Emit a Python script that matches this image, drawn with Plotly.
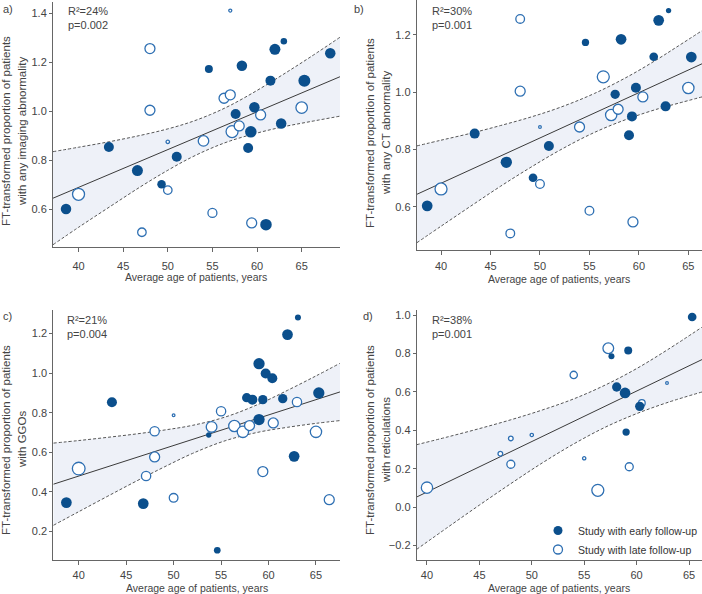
import plotly.graph_objects as go
from plotly.subplots import make_subplots

FONT = "Liberation Sans"
EARLY = "#0b4f8c"
LATE = "#2f70b3"
BAND = "#eef1f8"
AXIS = "#666666"
TEXT = "#444444"

# panel a) any imaging abnormality
a_early_age = [38.6, 43.4, 46.6, 49.3, 51.0, 54.6, 58.3, 57.6, 59.7, 59.3, 59.0, 61.0, 61.5, 62.0, 63.0, 62.7, 65.3, 68.2]
a_early_ft = [0.601, 0.854, 0.758, 0.702, 0.814, 1.173, 1.186, 0.989, 1.016, 0.916, 0.850, 0.537, 1.125, 1.253, 1.286, 0.950, 1.125, 1.237]
a_early_w = [10.5, 10, 11, 8.5, 10, 8, 10.5, 10, 10.5, 11.5, 10, 11.5, 10, 11, 6.5, 10.5, 12, 10.5]
a_late_age = [48.0, 48.0, 40.0, 47.1, 50.0, 50.0, 54.0, 55.0, 56.3, 57.0, 57.0, 57.2, 58.0, 60.4, 59.4, 65.0]
a_late_ft = [1.256, 1.004, 0.661, 0.506, 0.875, 0.678, 0.879, 0.585, 1.053, 1.067, 1.411, 0.917, 0.940, 0.985, 0.544, 1.015]
a_late_w = [10, 10, 12, 8.5, 3.5, 8.5, 10.5, 9, 10, 10, 3, 12, 10, 10, 10, 11.5]
a_fit_x = [37.14, 69.29]
a_fit_y = [0.645, 1.141]
a_ci_x = [37.14, 40, 43.5, 47, 50, 52.5, 54.8, 57, 60, 63, 66, 69.29]
a_ci_hi = [0.835, 0.853, 0.876, 0.902, 0.928, 0.955, 0.987, 1.024, 1.085, 1.152, 1.222, 1.302]
a_ci_lo = [0.455, 0.526, 0.610, 0.693, 0.759, 0.809, 0.848, 0.879, 0.911, 0.937, 0.958, 0.980]

# panel b) any CT abnormality
b_early_age = [38.6, 43.4, 46.6, 49.3, 50.9, 54.6, 58.2, 57.6, 59.7, 59.3, 59.0, 61.5, 62.0, 63.0, 62.7, 65.3]
b_early_ft = [0.603, 0.855, 0.755, 0.701, 0.812, 1.173, 1.184, 0.992, 1.015, 0.915, 0.849, 1.123, 1.250, 1.284, 0.950, 1.122]
b_early_w = [10.7, 10, 11.3, 8.7, 10, 7.3, 10.7, 9.3, 10, 10, 10, 8.7, 10.7, 5.3, 10, 10.7]
b_late_age = [48.0, 48.0, 40.0, 47.0, 50.0, 50.0, 54.0, 55.0, 56.4, 57.2, 57.9, 60.4, 59.4, 65.0]
b_late_ft = [1.255, 1.003, 0.662, 0.507, 0.878, 0.679, 0.878, 0.586, 1.053, 0.920, 0.940, 0.983, 0.547, 1.014]
b_late_w = [8.7, 10, 12, 8.7, 2.7, 8.7, 10, 8.7, 12, 11.3, 10, 10, 10, 11.3]
b_fit_x = [37.54, 66.38]
b_fit_y = [0.643, 1.0985]
b_ci_x = [37.54, 40, 43, 46, 49, 52, 55.5, 59, 62, 64, 66.38]
b_ci_hi = [0.812, 0.832, 0.856, 0.883, 0.912, 0.946, 0.995, 1.056, 1.117, 1.161, 1.214]
b_ci_lo = [0.474, 0.532, 0.602, 0.671, 0.736, 0.797, 0.859, 0.908, 0.942, 0.961, 0.983]

# panel c) GGOs
c_early_age = [38.7, 43.5, 46.8, 53.7, 54.6, 59.0, 59.7, 60.4, 62.0, 63.1, 57.7, 58.3, 59.4, 59.0, 61.5, 62.7, 65.3]
c_early_ft = [0.345, 0.853, 0.340, 0.687, 0.104, 1.048, 0.998, 0.974, 1.195, 1.281, 0.876, 0.866, 0.866, 0.765, 0.871, 0.579, 0.900]
c_early_w = [10.7, 10, 10.7, 5.3, 6.7, 11.3, 10, 10, 10.7, 6, 9.3, 10, 9.3, 11.3, 9.3, 10.7, 11.3]
c_late_age = [40.0, 47.1, 48.0, 48.0, 50.0, 50.0, 54.0, 55.0, 56.4, 57.3, 58.0, 60.5, 59.4, 63.0, 65.0, 66.4]
c_late_ft = [0.517, 0.480, 0.706, 0.576, 0.787, 0.369, 0.728, 0.807, 0.733, 0.703, 0.735, 0.748, 0.502, 0.854, 0.703, 0.360]
c_late_w = [12.7, 9.3, 9.3, 10, 2.7, 8.7, 10.7, 9.3, 11.3, 11.3, 10, 10, 10, 9.3, 11.3, 10]
c_fit_x = [37.33, 67.53]
c_fit_y = [0.438, 0.905]
c_ci_x = [37.33, 40, 43, 46, 49, 52, 55.5, 59, 62, 65, 67.53]
c_ci_hi = [0.646, 0.659, 0.675, 0.692, 0.712, 0.736, 0.779, 0.844, 0.913, 0.986, 1.050]
c_ci_lo = [0.230, 0.299, 0.376, 0.452, 0.525, 0.594, 0.659, 0.702, 0.726, 0.746, 0.760]

# panel d) reticulations
d_early_age = [65.3, 57.6, 59.2, 58.1, 58.9, 60.3, 59.0]
d_early_ft = [0.991, 0.786, 0.817, 0.626, 0.595, 0.525, 0.391]
d_early_w = [8.7, 6, 8, 9.3, 10.7, 9.3, 7.3]
d_late_age = [40.0, 47.0, 48.0, 48.0, 50.0, 54.0, 55.0, 56.3, 57.3, 60.5, 62.9, 59.3]
d_late_ft = [0.101, 0.278, 0.358, 0.223, 0.376, 0.689, 0.254, 0.087, 0.828, 0.543, 0.647, 0.210]
d_late_w = [11.3, 4.7, 4.7, 8, 3.3, 7.3, 3.3, 12, 10.7, 6.7, 2.7, 8]
d_fit_x = [39.01, 66.24]
d_fit_y = [0.052, 0.769]
d_ci_x = [39.01, 42, 45, 48, 51, 54, 57, 60, 63, 66.24]
d_ci_hi = [0.325, 0.366, 0.409, 0.455, 0.506, 0.564, 0.636, 0.722, 0.822, 0.938]
d_ci_lo = [-0.221, -0.105, 0.010, 0.122, 0.230, 0.329, 0.416, 0.487, 0.546, 0.600]

panel_labels = ["a)", "b)", "c)", "d)"]
r2_text = ["R²=24%", "R²=30%", "R²=21%", "R²=38%"]
p_text = ["p=0.002", "p=0.001", "p=0.004", "p=0.001"]
y_title_top = "FT-transformed proportion of patients"
y_title_sub = ["with any imaging abnormality", "with any CT abnormality", "with GGOs", "with reticulations"]
x_title = "Average age of patients, years"

panels = [
    (a_early_age, a_early_ft, a_early_w, a_late_age, a_late_ft, a_late_w, a_fit_x, a_fit_y, a_ci_x, a_ci_hi, a_ci_lo),
    (b_early_age, b_early_ft, b_early_w, b_late_age, b_late_ft, b_late_w, b_fit_x, b_fit_y, b_ci_x, b_ci_hi, b_ci_lo),
    (c_early_age, c_early_ft, c_early_w, c_late_age, c_late_ft, c_late_w, c_fit_x, c_fit_y, c_ci_x, c_ci_hi, c_ci_lo),
    (d_early_age, d_early_ft, d_early_w, d_late_age, d_late_ft, d_late_w, d_fit_x, d_fit_y, d_ci_x, d_ci_hi, d_ci_lo),
]

# layout of the four panels (pixel-measured, in paper fractions)
x_domains = [[0.0755, 0.4843], [0.5936, 1.0], [0.0759, 0.4843], [0.5936, 1.0]]
y_domains = [[0.5847, 0.9966], [0.5791, 1.0], [0.0567, 0.4776], [0.0567, 0.4776]]
x_ranges = [[37.14, 69.29], [37.54, 66.38], [37.32, 67.53], [39.02, 66.24]]
y_ranges = [[0.447, 1.446], [0.449, 1.321], [0.053, 1.318], [-0.278, 1.026]]
xtick_standoff = [5, 2, 0, 0]
ytitle_x = [(6, 22), (370, 386), (6, 22), (370, 386)]
ytitle_y = [131, 133, 440, 440]
xtitle_y = [277, 279, 587.5, 587.5]
label_pos = [(1, 1), (352, 1), (1, 308), (361, 308)]
stats_pos = [(66, 3), (430, 3), (65, 312), (430, 312)]

W, H = 702, 594

fig = make_subplots(rows=2, cols=2)
cells = [(1, 1), (1, 2), (2, 1), (2, 2)]

for i, (ea, ef, ew, la, lf, lw, fx, fy, cx, chi, clo) in enumerate(panels):
    r, c = cells[i]
    # confidence band
    fig.add_trace(go.Scatter(x=cx, y=clo, mode="lines", line=dict(color="#555555", width=1, dash="3px,2px", shape="spline"),
                             showlegend=False, hoverinfo="skip"), row=r, col=c)
    fig.add_trace(go.Scatter(x=cx, y=chi, mode="lines", line=dict(color="#555555", width=1, dash="3px,2px", shape="spline"),
                             fill="tonexty", fillcolor=BAND, showlegend=False, hoverinfo="skip"), row=r, col=c)
    # meta-regression line
    fig.add_trace(go.Scatter(x=fx, y=fy, mode="lines", line=dict(color="#3a3a3a", width=1),
                             showlegend=False, hoverinfo="skip"), row=r, col=c)
    # studies
    fig.add_trace(go.Scatter(x=la, y=lf, mode="markers",
                             marker=dict(size=lw, color="white", opacity=1, line=dict(color=LATE, width=1.3)),
                             showlegend=False), row=r, col=c)
    fig.add_trace(go.Scatter(x=ea, y=ef, mode="markers",
                             marker=dict(size=ew, color=EARLY, opacity=1, line=dict(width=0)),
                             showlegend=False), row=r, col=c)

# legend entries
fig.add_trace(go.Scatter(x=[None], y=[None], mode="markers", name="Study with early follow-up",
                         marker=dict(size=9, color=EARLY, opacity=1)), row=2, col=2)
fig.add_trace(go.Scatter(x=[None], y=[None], mode="markers", name="Study with late follow-up",
                         marker=dict(size=9, color="white", opacity=1, line=dict(color=LATE, width=1.3))), row=2, col=2)

annotations = []
for i in range(4):
    ax = "" if i == 0 else str(i + 1)
    for j, line in enumerate([y_title_top, y_title_sub[i]]):
        annotations.append(dict(text=line, xref="paper", yref="paper", x=ytitle_x[i][j] / W, y=1 - ytitle_y[i] / H,
                                xanchor="center", yanchor="middle", textangle=-90, showarrow=False,
                                font=dict(family=FONT, size=11.5, color=TEXT)))
    annotations.append(dict(text=x_title, xref="x" + ax + " domain", yref="paper", x=0.5, y=1 - xtitle_y[i] / H,
                            xanchor="center", yanchor="middle", showarrow=False,
                            font=dict(family=FONT, size=10.5, color=TEXT)))
    lx, ly = label_pos[i]
    annotations.append(dict(text=panel_labels[i], xref="paper", yref="paper", x=lx / W, y=1 - ly / H,
                            xanchor="left", yanchor="top", showarrow=False,
                            font=dict(family=FONT, size=11, color=TEXT)))
    sx, sy = stats_pos[i]
    annotations.append(dict(text=r2_text[i] + "<br>" + p_text[i], xref="paper", yref="paper", x=sx / W, y=1 - sy / H,
                            xanchor="left", yanchor="top", align="left", showarrow=False,
                            font=dict(family=FONT, size=11, color=TEXT)))

fig.update_layout(
    width=W, height=H,
    # no auto-expanding: the legend would otherwise push the right margin in
    margin=dict(l=0, r=0, t=0, b=0, autoexpand=False),
    plot_bgcolor="white", paper_bgcolor="white",
    font=dict(family=FONT, size=11, color=TEXT),
    annotations=annotations,
    showlegend=True,
    legend=dict(x=538 / W, y=1 - 516 / H, xanchor="left", yanchor="top", bgcolor="rgba(0,0,0,0)",
                traceorder="normal", font=dict(family=FONT, size=10.5, color="#333333"),
                tracegroupgap=0, itemwidth=30),
)

for i in range(4):
    ax = "" if i == 0 else str(i + 1)
    fig.layout["xaxis" + ax].update(
        domain=x_domains[i], range=x_ranges[i], dtick=5, tick0=0,
        showline=True, linecolor=AXIS, linewidth=1, ticks="outside", ticklen=4, tickcolor=AXIS,
        ticklabelstandoff=xtick_standoff[i],
        showgrid=False, zeroline=False, tickfont=dict(family=FONT, size=11, color=TEXT),
    )
    fig.layout["yaxis" + ax].update(
        domain=y_domains[i], range=y_ranges[i], dtick=0.2, tick0=0, tickformat=".1f",
        showline=True, linecolor=AXIS, linewidth=1, ticks="outside", ticklen=3, tickcolor=AXIS,
        showgrid=False, zeroline=False, tickfont=dict(family=FONT, size=11, color=TEXT),
    )

# the page body has a default 8px margin; drop it so the figure sits at the window origin
fig.write_html("out.html", config={"displayModeBar": False},
               post_script="document.body.style.margin = '0';")
